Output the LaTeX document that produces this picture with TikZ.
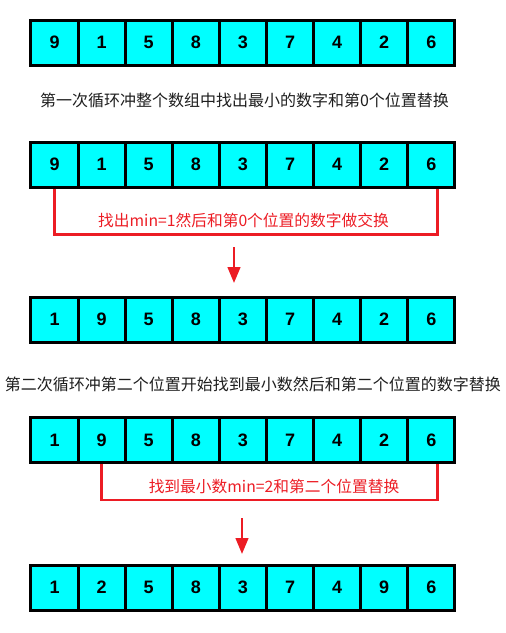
\documentclass[tikz,border=0pt]{standalone}
\usepackage{fontspec}
\setmainfont{Liberation Sans}
\newfontfamily\cjk{Noto Sans CJK SC}
\usetikzlibrary{arrows.meta}
\definecolor{cellcyan}{RGB}{0,255,255}
\definecolor{swapred}{RGB}{236,28,36}
\definecolor{captiongray}{RGB}{30,30,30}
\begin{document}
\begin{tikzpicture}[x=0.75pt,y=-0.75pt,
  cell/.style={draw=black,line width=2.25pt,fill=cellcyan,minimum width=35.33pt,minimum height=33.75pt,inner sep=0pt,font=\fontsize{13.5}{15}\selectfont\bfseries},
  caption/.style={font=\cjk\fontsize{12}{14}\selectfont,text=captiongray},
  swap/.style={draw=swapred,line width=1.8pt},
  swaplabel/.style={font=\cjk\fontsize{11.8}{14}\selectfont,text=swapred},
  steparrow/.style={draw=swapred,line width=1.8pt,-{Triangle[length=12pt,width=9.5pt]}}]
\useasboundingbox (0,0) rectangle (506,633);
% arrays
\foreach \v [count=\i] in {9,1,5,8,3,7,4,2,6}
  \node[cell] (a\i) at ({31+47.1*(\i-0.5)},42.5) {\v};
\foreach \v [count=\i] in {9,1,5,8,3,7,4,2,6}
  \node[cell] (b\i) at ({31+47.1*(\i-0.5)},164.5) {\v};
\foreach \v [count=\i] in {1,9,5,8,3,7,4,2,6}
  \node[cell] (c\i) at ({31+47.1*(\i-0.5)},319.5) {\v};
\foreach \v [count=\i] in {1,9,5,8,3,7,4,2,6}
  \node[cell] (d\i) at ({31+47.1*(\i-0.5)},440) {\v};
\foreach \v [count=\i] in {1,2,5,8,3,7,4,9,6}
  \node[cell] (e\i) at ({31+47.1*(\i-0.5)},587.5) {\v};
% captions
\node[caption] (t1) at (244.5,100) {第一次循环冲整个数组中找出最小的数字和第0个位置替换};
\node[caption] (t2) at (253,384) {第二次循环冲第二个位置开始找到最小数然后和第二个位置的数字替换};
% swap brackets
\draw[swap] (b1.south) -- ++(0,46) -| ([xshift=4.5pt]b9.south);
\node[swaplabel] (l1) at (243.5,220) {找出min=1然后和第0个位置的数字做交换};
\draw[swap] (d2.south) -- ++(0,36) -| ([xshift=4.5pt]d9.south);
\node[swaplabel] (l2) at (274,486) {找到最小数min=2和第二个位置替换};
% step arrows
\coordinate (s1) at (234,247);
\coordinate (f1) at (234,283);
\draw[steparrow] (s1) -- (f1);
\coordinate (s2) at (242,518);
\coordinate (f2) at (242,554);
\draw[steparrow] (s2) -- (f2);
\end{tikzpicture}
\end{document}
